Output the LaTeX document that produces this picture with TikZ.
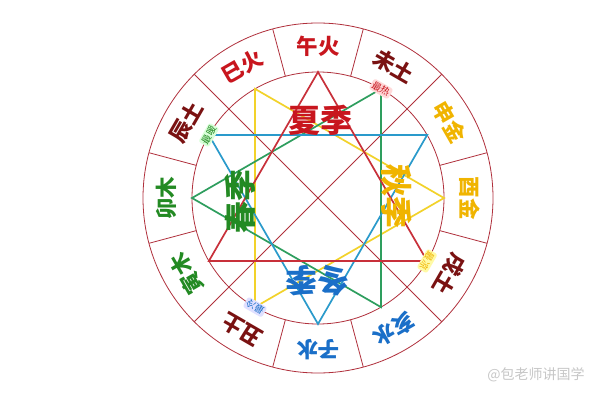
\documentclass[tikz,border=0pt]{standalone}
\usepackage{fontspec}
\newfontfamily\cjk{Noto Sans CJK SC}
\definecolor{ringred}{HTML}{B0303C}
\definecolor{trired}{HTML}{C8303A}
\definecolor{triyellow}{HTML}{F2D22A}
\definecolor{trigreen}{HTML}{2E9E5E}
\definecolor{triblue}{HTML}{2A9ACB}
\definecolor{txtred}{HTML}{C8161E}
\definecolor{txtdark}{HTML}{7A1212}
\definecolor{txtgold}{HTML}{F0B400}
\definecolor{txtgreen}{HTML}{238A23}
\definecolor{txtblue}{HTML}{1A6FC8}
\begin{document}
\begin{tikzpicture}[x=1pt,y=1pt,
  ringline/.style={draw=ringred, line width=0.8pt},
  triline/.style={line width=1.7pt, line join=miter},
  branch/.style={font=\cjk\bfseries\fontsize{21.5}{21.5}\selectfont, inner sep=0pt},
  season/.style={font=\cjk\bfseries\fontsize{32}{32}\selectfont, inner sep=0pt},
  badge/.style={font=\cjk\fontsize{9.5}{9.5}\selectfont, rounded corners=2.5pt, inner sep=1.5pt}]
\useasboundingbox (0,0) rectangle (600,400);
\fill[white] (0,0) rectangle (600,400);
\coordinate (O) at (318,202);
% branch points on inner circle
\foreach \i in {0,...,11} {
  \path (O) ++({90-30*\i}:126pt) coordinate (b\i);
}
% circles
\draw[ringline] (O) circle[radius=175pt];
\draw[ringline] (O) circle[radius=126pt];
% spokes
\foreach \k in {0,...,11} {
  \path (O) ++({15+30*\k}:126pt) coordinate (si\k);
  \path (O) ++({15+30*\k}:175pt) coordinate (so\k);
  \draw[ringline] (si\k) -- (so\k);
}
% diagonals through the centre
\draw[ringline] (si1) -- (si7);
\draw[ringline] (si4) -- (si10);
% triangles
\draw[triline, draw=triyellow] (b3) -- (b7) -- (b11) -- cycle;
\draw[triline, draw=trigreen] (b9) -- (b1) -- (b5) -- cycle;
\draw[triline, draw=triblue] (b6) -- (b10) -- (b2) -- cycle;
\draw[triline, draw=trired] (b0) -- (b4) -- (b8) -- cycle;
% branch labels
\foreach \i/\t/\c in {0/午火/txtred, 1/未土/txtdark, 2/申金/txtgold, 3/酉金/txtgold,
  4/戌土/txtdark, 5/亥水/txtblue, 6/子水/txtblue, 7/丑土/txtdark, 8/寅木/txtgreen,
  9/卯木/txtgreen, 10/辰土/txtdark, 11/巳火/txtred} {
  \path (O) ++({90-30*\i}:152pt) node[branch, text=\c, rotate={-30*\i}] (l\i) {\t};
}
% season labels
\node[season, text=txtred] (xia) at (320,280) {夏季};
\node[season, text=txtgreen, rotate=90] (chun) at (240,199) {春季};
\node[season, text=txtgold, rotate=-90] (qiu) at (397,204) {秋季};
\node[season, text=txtblue, rotate=180] (dong) at (317,119) {冬季};
% badges
\node[badge, fill=red!15, text=txtred, rotate=-30] (hot) at (b1) {最热};
\node[badge, fill=green!15, text=txtgreen, rotate=60] (warm) at (b10) {最暖};
\node[badge, fill=yellow!35, text=txtgold, rotate=-120] (cool) at (b4) {最凉};
\node[badge, fill=blue!12, text=txtblue, rotate=150] (cold) at (b7) {最冷};
% watermark
\node[font=\cjk\fontsize{14}{14}\selectfont, text=black!22, inner sep=0pt] (wm) at (536,25) {@包老师讲国学};
\end{tikzpicture}
\end{document}
